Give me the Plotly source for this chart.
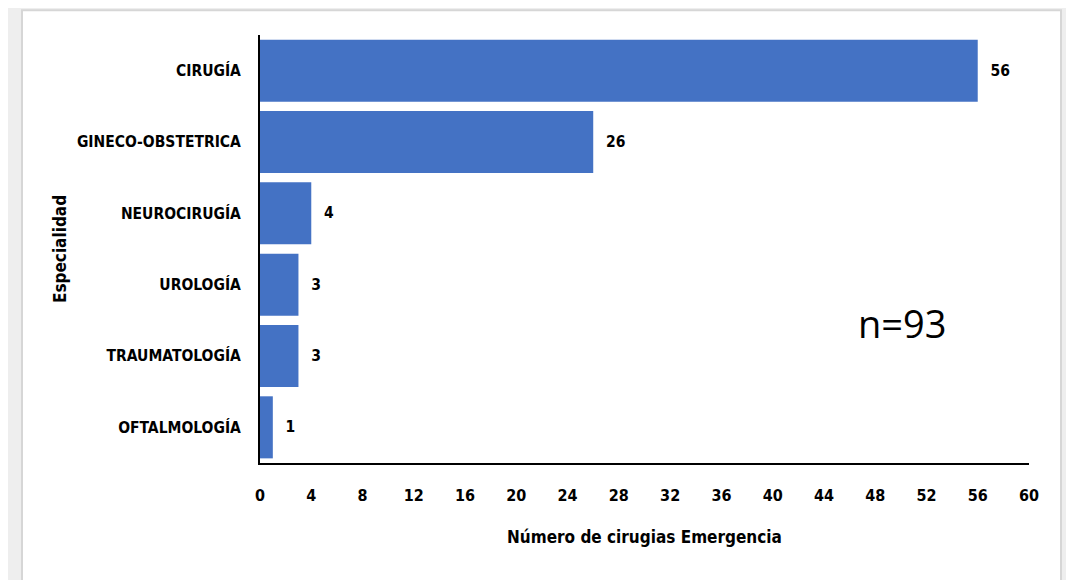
import plotly.graph_objects as go

especialidades = ['CIRUGÍA', 'GINECO-OBSTETRICA', 'NEUROCIRUGÍA', 'UROLOGÍA', 'TRAUMATOLOGÍA', 'OFTALMOLOGÍA']
cirugias = [56, 26, 4, 3, 3, 1]
x_ticks = list(range(0, 61, 4))

font_bold = 'Liberation Sans Narrow, DejaVu Sans Condensed, Open Sans, sans-serif'

fig = go.Figure(data=[go.Bar(
    y=especialidades,
    x=cirugias,
    orientation='h',
    text=cirugias,
    texttemplate='  %{x}',
    textposition='outside',
    textfont=dict(size=15.5, color='#000000', family=font_bold, weight='bold'),
    marker=dict(color='#4472C4', line=dict(width=0)),
    cliponaxis=False,
)])

# the page body adds 8px around the figure, so the figure is 8px smaller
fig.update_layout(
    width=1066, height=572,
    margin=dict(l=252, r=45, t=27, b=117),
    paper_bgcolor='#eeeeee',
    plot_bgcolor='#FFFFFF',
    bargap=0.13,
    showlegend=False,
    font=dict(family=font_bold, color='#000000'),
    xaxis=dict(
        range=[0, 60], tickvals=x_ticks, showgrid=False, zeroline=False,
        showline=True, linecolor='#000000', linewidth=2, ticks='',
        ticklabelstandoff=17,
        tickfont=dict(size=16, weight='bold'),
    ),
    yaxis=dict(
        categoryorder='array', categoryarray=especialidades[::-1],
        showgrid=False, zeroline=False, showline=True, linecolor='#000000',
        linewidth=2, ticks='', ticklabelstandoff=14,
        tickfont=dict(size=15.5, weight='bold'),
    ),
    # white card behind the chart
    shapes=[dict(
        type='rect', xref='paper', yref='paper', layer='below',
        x0=-0.3095, x1=1.0416, y0=-0.30, y1=1.058,
        fillcolor='#FFFFFF', line=dict(color='#d6d6d6', width=2),
    )],
    annotations=[
        dict(text='Número de cirugias Emergencia', xref='paper', yref='paper',
             x=0.5, y=-0.173, xanchor='center', yanchor='middle', showarrow=False,
             font=dict(size=17, weight='bold')),
        dict(text='Especialidad', xref='paper', yref='paper', x=-0.26, y=0.5,
             xanchor='center', yanchor='middle',
             textangle=-90, showarrow=False, font=dict(size=17, weight='bold')),
        dict(text='n=93', xref='paper', yref='paper', x=0.836, y=0.327,
             xanchor='center', yanchor='middle',
             showarrow=False, font=dict(size=38, family='Open Sans, Noto Sans, sans-serif')),
    ],
)

fig.write_html('out.html')
